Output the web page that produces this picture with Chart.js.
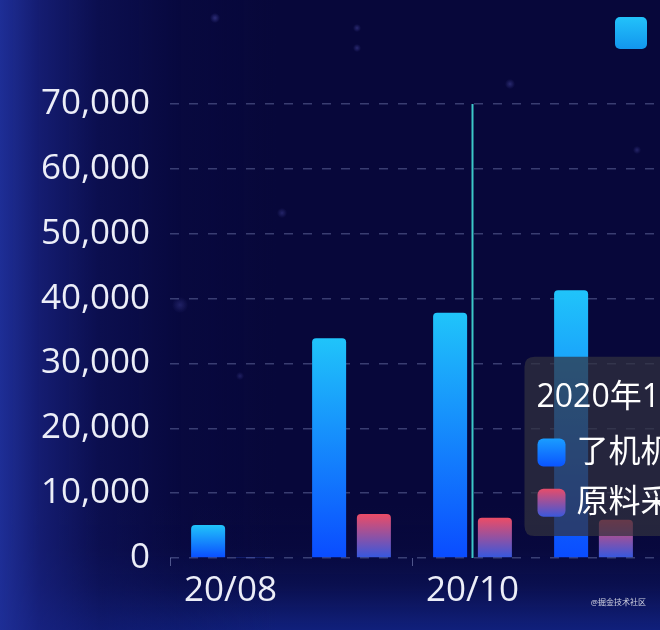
<!DOCTYPE html>
<html>
<head>
<meta charset="utf-8">
<script src="https://cdn.jsdelivr.net/npm/chart.js@4/dist/chart.umd.min.js"></script>
<style>
  html, body { margin: 0; padding: 0; width: 660px; height: 630px; overflow: hidden; }
  body {
    background:
      radial-gradient(circle at 215px 18px, rgba(90,90,190,0.45) 0, rgba(90,90,190,0) 5px),
      radial-gradient(circle at 357px 28px, rgba(90,90,190,0.4) 0, rgba(90,90,190,0) 4px),
      radial-gradient(circle at 357px 48px, rgba(90,90,190,0.4) 0, rgba(90,90,190,0) 4px),
      radial-gradient(circle at 510px 84px, rgba(90,90,190,0.4) 0, rgba(90,90,190,0) 5px),
      radial-gradient(circle at 282px 213px, rgba(90,90,190,0.35) 0, rgba(90,90,190,0) 5px),
      radial-gradient(circle at 180px 305px, rgba(90,90,190,0.3) 0, rgba(90,90,190,0) 8px),
      radial-gradient(circle at 240px 376px, rgba(90,90,190,0.3) 0, rgba(90,90,190,0) 4px),
      radial-gradient(circle at 637px 150px, rgba(90,90,190,0.35) 0, rgba(90,90,190,0) 4px),
      linear-gradient(to right, rgba(30,46,150,1) 0%, rgba(24,34,128,0.78) 6%, rgba(16,22,100,0.5) 15%, rgba(10,14,80,0.22) 27%, rgba(0,0,0,0) 42%),
      linear-gradient(to top, rgba(18,36,135,0.85) 0%, rgba(14,26,105,0.45) 7%, rgba(10,16,80,0.15) 13%, rgba(0,0,0,0) 20%),
      #07073a;
    font-family: 'Open Sans', 'Noto Sans CJK SC', sans-serif;
  }
  #wrap { position: absolute; left: 0; top: 0; width: 1000px; height: 630px; }
  #mark { position: absolute; right: 14px; bottom: 23px; font-size: 8px; color: rgba(255,255,255,0.8); }
</style>
</head>
<body>
<div id="wrap"><canvas id="chart"></canvas></div>
<div id="mark">@掘金技术社区</div>
<script>
// data
const months = ['20/08', '20/09', '20/10', '20/11'];
const monthTitles = ['2020年08月', '2020年09月', '2020年10月', '2020年11月'];
const seriesNames = ['了机机', '原料采购'];
const machineValues = [5100, 33900, 37800, 41300];
const materialValues = [150, 6800, 6200, 5900];
const yTicks = [0, 10000, 20000, 30000, 40000, 50000, 60000, 70000];

const activeMonth = 2;
const fontFamily = "'Open Sans', 'Noto Sans CJK SC', sans-serif";
const tickFont = { family: fontFamily, size: 35 };

const blueTop = '#20c4fa', blueBottom = '#0a4cff';
const redTop = '#ec4c66', redBottom = '#3458e0';

function grad(ctx, y1, y2, top, bottom) {
  const g = ctx.createLinearGradient(0, y1, 0, y2);
  g.addColorStop(0, top);
  g.addColorStop(1, bottom);
  return g;
}

// per-bar vertical gradient
function barGradient(top, bottom) {
  return (ctx) => {
    const chart = ctx.chart;
    const y = chart.scales.y;
    if (!chart.chartArea || !y || ctx.raw == null) return bottom;
    const y0 = y.getPixelForValue(0);
    const y1 = y.getPixelForValue(ctx.raw);
    if (!isFinite(y0) || !isFinite(y1) || Math.abs(y0 - y1) < 1) return bottom;
    return grad(chart.ctx, y1, y0, top, bottom);
  };
}

// crosshair on the active month
const crosshair = {
  id: 'crosshair',
  afterDatasetsDraw(chart) {
    const active = chart.tooltip.getActiveElements();
    if (!active.length) return;
    const x = chart.scales.x.getPixelForValue(active[0].index);
    const { top, bottom } = chart.chartArea;
    const c = chart.ctx;
    c.save();
    c.strokeStyle = '#3cc8c8';
    c.lineWidth = 2;
    c.beginPath();
    c.moveTo(x, top);
    c.lineTo(x, bottom);
    c.stroke();
    c.restore();
  }
};

// legend sits at the top right, past the plot
const legendPlace = {
  id: 'legendPlace',
  afterLayout(chart) {
    const lg = chart.legend;
    if (!lg) return;
    lg.top = 0;
    lg.bottom = lg.height;
    lg.left = 599;
    lg.right = chart.width;
    lg.width = lg.right - lg.left;
  }
};

Chart.Tooltip.positioners.beside = function (items) {
  if (!items.length) return false;
  const chart = this.chart;
  return {
    x: chart.scales.x.getPixelForValue(items[0].index) + 52,
    y: chart.scales.y.getPixelForValue(17200)
  };
};

const tipPad = { top: 22, left: 12, right: 14, bottom: 14 };
const tipSize = 32, tipTitleGap = 16, tipSpacing = 12;

const chart = new Chart(document.getElementById('chart'), {
  type: 'bar',
  data: {
    labels: months,
    datasets: [
      {
        label: seriesNames[0],
        data: machineValues,
        backgroundColor: barGradient(blueTop, blueBottom),
        borderRadius: 4,
        borderSkipped: 'start',
        categoryPercentage: 0.74,
        barPercentage: 0.76
      },
      {
        label: seriesNames[1],
        data: materialValues,
        backgroundColor: barGradient(redTop, redBottom),
        borderRadius: 4,
        borderSkipped: 'start',
        categoryPercentage: 0.74,
        barPercentage: 0.76
      }
    ]
  },
  options: {
    responsive: true,
    maintainAspectRatio: false,
    animation: false,
    events: [],
    layout: { padding: { top: 44, right: 346, bottom: 14, left: 0 } },
    plugins: {
      legend: {
        align: 'start',
        labels: {
          boxWidth: 32,
          boxHeight: 32,
          padding: 16,
          color: '#ffffff',
          font: { family: fontFamily, size: 34 },
          useBorderRadius: true,
          borderRadius: 5,
          generateLabels(chart) {
            const lt = chart.legend && isFinite(chart.legend.top) ? chart.legend.top : 0;
            const top = lt + 17;
            const cols = [['#22c2fa', '#1296ee'], [redTop, redBottom]];
            return chart.data.datasets.map((ds, i) => ({
              text: ds.label,
              fillStyle: grad(chart.ctx, top, top + 32, cols[i][0], cols[i][1]),
              strokeStyle: 'rgba(0,0,0,0)',
              lineWidth: 0,
              fontColor: '#ffffff',
              borderRadius: 5,
              datasetIndex: i
            }));
          }
        }
      },
      tooltip: {
        mode: 'index',
        position: 'beside',
        xAlign: 'left',
        yAlign: 'center',
        caretSize: 0,
        caretPadding: 0,
        backgroundColor: 'rgba(50,50,62,0.72)',
        multiKeyBackground: 'rgba(0,0,0,0)',
        cornerRadius: 10,
        padding: tipPad,
        titleFont: { family: fontFamily, size: tipSize, weight: 'normal' },
        bodyFont: { family: fontFamily, size: tipSize },
        titleColor: '#ffffff',
        bodyColor: '#ffffff',
        titleMarginBottom: tipTitleGap,
        bodySpacing: tipSpacing,
        boxWidth: 30,
        boxHeight: 30,
        boxPadding: 8,
        callbacks: {
          title: (items) => monthTitles[items[0].dataIndex],
          label: (item) => item.dataset.label + '    ' + item.formattedValue,
          labelColor: (item) => {
            const tt = item.chart.tooltip;
            const lh = tipSize * 1.2;
            const ty = isFinite(tt.y) ? tt.y : 0;
            const top = ty + tipPad.top + lh + tipTitleGap + item.datasetIndex * (lh + tipSpacing) + (lh - 30) / 2;
            const c = item.datasetIndex === 0 ? ['#1aa0ff', '#0a52ff'] : [redTop, redBottom];
            return {
              backgroundColor: grad(item.chart.ctx, top, top + 30, c[0], c[1]),
              borderColor: 'rgba(0,0,0,0)',
              borderWidth: 0,
              borderRadius: 6
            };
          }
        }
      }
    },
    scales: {
      x: {
        offset: true,
        border: { display: false },
        grid: {
          offset: true,
          drawOnChartArea: false,
          drawTicks: true,
          tickLength: 8,
          color: (ctx) => (ctx.index % 2 === 0 ? 'rgba(150,160,210,0.5)' : 'rgba(0,0,0,0)')
        },
        ticks: {
          color: '#eceef8',
          font: tickFont,
          padding: 4,
          autoSkip: false,
          maxRotation: 0,
          callback: (v, i) => (i % 2 === 0 ? months[i] : '')
        }
      },
      y: {
        min: 0,
        max: 70000,
        afterFit(scale) { scale.width = 170; },
        afterBuildTicks(scale) { scale.ticks = yTicks.map(v => ({ value: v })); },
        border: { display: false, dash: [9, 10] },
        grid: {
          color: 'rgba(140,150,200,0.38)',
          drawTicks: false,
          lineWidth: 1.5
        },
        ticks: {
          color: '#eceef8',
          font: tickFont,
          padding: 20,
          callback: (v) => v.toLocaleString('en-US')
        }
      }
    }
  },
  plugins: [crosshair, legendPlace]
});

chart.tooltip.setActiveElements(
  [{ datasetIndex: 0, index: activeMonth }, { datasetIndex: 1, index: activeMonth }],
  { x: 0, y: 0 }
);
chart.update();
// second pass so the key colours know where the tooltip ended up
chart.tooltip.update(true);
chart.draw();
</script>
</body>
</html>
